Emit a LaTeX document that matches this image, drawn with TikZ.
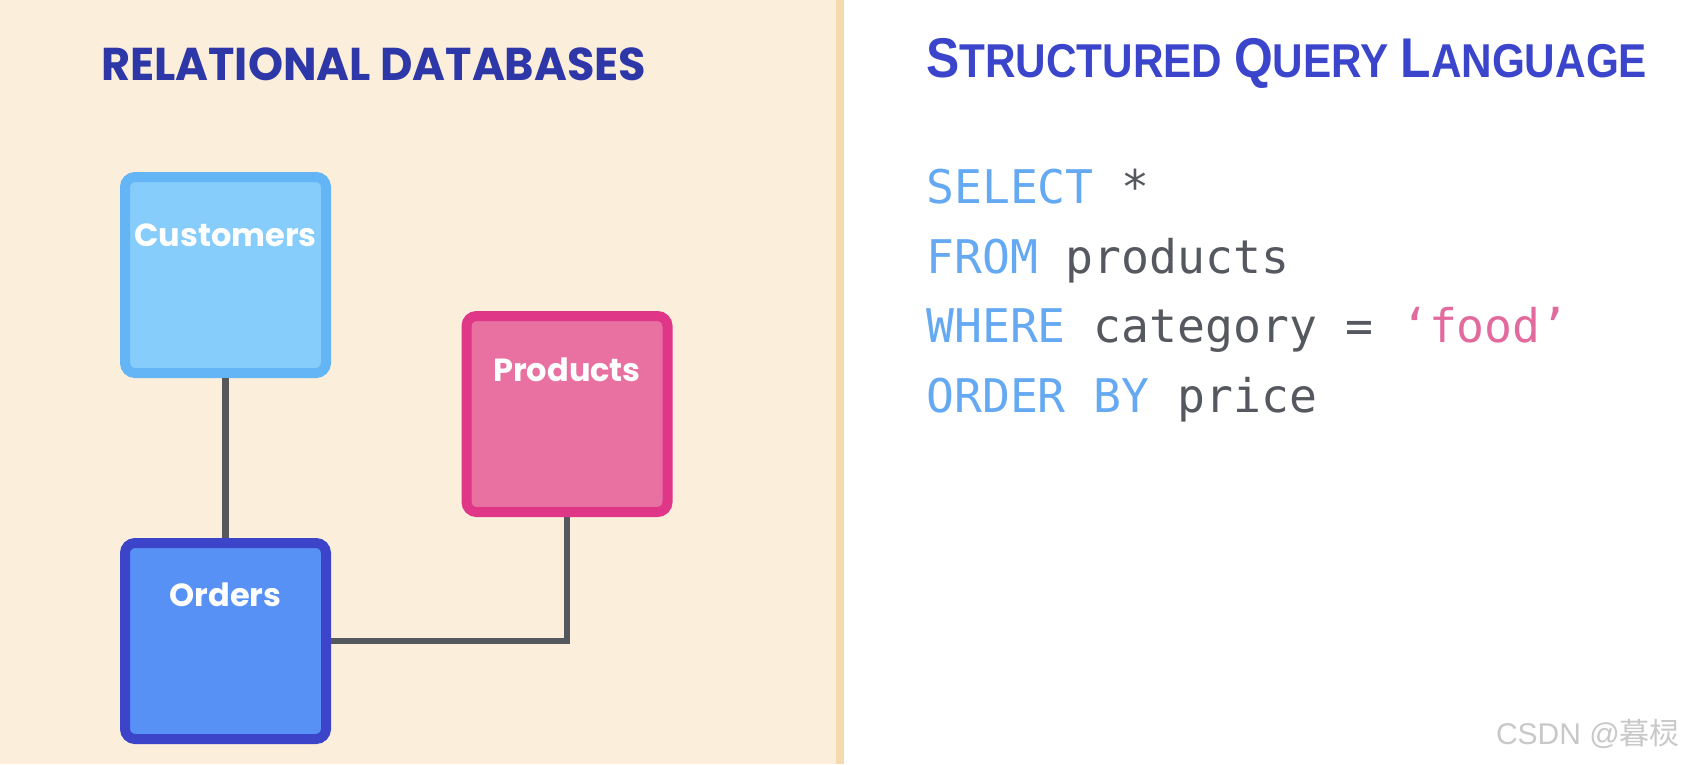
\documentclass[tikz,border=0pt]{standalone}
\usepackage{fontspec}
\usetikzlibrary{positioning}
\newfontfamily\relfont{Poppins}[FakeStretch=0.97]
\newfontfamily\sqlfont{Liberation Sans}[FakeStretch=0.89]
\newfontfamily\tblfont{Poppins}
\newfontfamily\codefont{DejaVu Sans Mono}
\newfontfamily\wmfont{Liberation Sans}
\newfontfamily\wmcjk{Noto Sans CJK SC}
\definecolor{panelbg}{HTML}{FBEFDC}
\definecolor{stripe}{HTML}{F5DAAE}
\definecolor{custdraw}{HTML}{64B5F6}
\definecolor{custfill}{HTML}{87CDFB}
\definecolor{proddraw}{HTML}{DF3687}
\definecolor{prodfill}{HTML}{E871A1}
\definecolor{orddraw}{HTML}{3C44C9}
\definecolor{ordfill}{HTML}{5891F6}
\definecolor{linkgray}{HTML}{55585D}
\definecolor{reltitle}{HTML}{2E37A8}
\definecolor{sqltitle}{HTML}{3A45CC}
\definecolor{kw}{HTML}{64A9F1}
\definecolor{ident}{HTML}{55585E}
\definecolor{strpink}{HTML}{E26B9E}
\definecolor{wm}{HTML}{C8C8C8}
\newcommand\bigsc[2]{{\fontsize{56}{60}\selectfont #1}#2}
\tikzset{
  tablebox/.style={draw,line width=10pt,rounded corners=10pt,minimum width=201pt,minimum height=196pt},
  tablelbl/.style={inner sep=0pt,text=white,font=\tblfont\bfseries\fontsize{32}{34}\selectfont},
  link/.style={draw=linkgray,line width=6.5pt},
  codeln/.style={anchor=base west,inner sep=0pt,text=ident,font=\codefont\fontsize{46.4}{50}\selectfont}
}
\begin{document}
\begin{tikzpicture}[x=1pt,y=-1pt]
\useasboundingbox (0,0) rectangle (1684,764);
%panels
\fill[panelbg] (0,0) rectangle (836,764);
\fill[stripe] (836,0) rectangle (844,764);
%titles
\node[anchor=base west,inner sep=0pt,text=reltitle,font=\relfont\bfseries\fontsize{46}{50}\selectfont] (rel) at (101,80) {RELATIONAL DATABASES};
\node[anchor=base west,inner sep=0pt,text=sqltitle,font=\sqlfont\bfseries\fontsize{47.5}{50}\selectfont] (sql) at (926,77) {\bigsc{S}{TRUCTURED} \bigsc{Q}{UERY} \bigsc{L}{ANGUAGE}};
%tables
\node[tablebox,draw=custdraw,fill=custfill] (cust) at (225.5,275) {};
\node[tablelbl,below=52pt of cust.north] (custlbl) {Customers};
\node[tablebox,draw=proddraw,fill=prodfill] (prod) at (567,414) {};
\node[tablelbl,below=47pt of prod.north] (prodlbl) {Products};
\node[tablebox,draw=orddraw,fill=ordfill] (ord) at (225.5,641) {};
\node[tablelbl,below=45pt of ord.north] (ordlbl) {Orders};
%links
\draw[link] (cust.south) -- (ord.north);
\draw[link] (ord.east) -| (prod.south);
%query
\node[codeln] (sel) at (926,203) {\textcolor{kw}{SELECT} *};
\node[codeln] (from) at (926,273) {\textcolor{kw}{FROM} products};
\node[codeln] (where) at (926,342) {\textcolor{kw}{WHERE} category = \textcolor{strpink}{‘food’}};
\node[codeln] (order) at (926,412) {\textcolor{kw}{ORDER BY} price};
%watermark
\node[anchor=base east,inner sep=0pt,text=wm,font=\wmfont\fontsize{30}{32}\selectfont] (mark) at (1680,744) {CSDN @{\wmcjk 暮棂}};
\end{tikzpicture}
\end{document}
